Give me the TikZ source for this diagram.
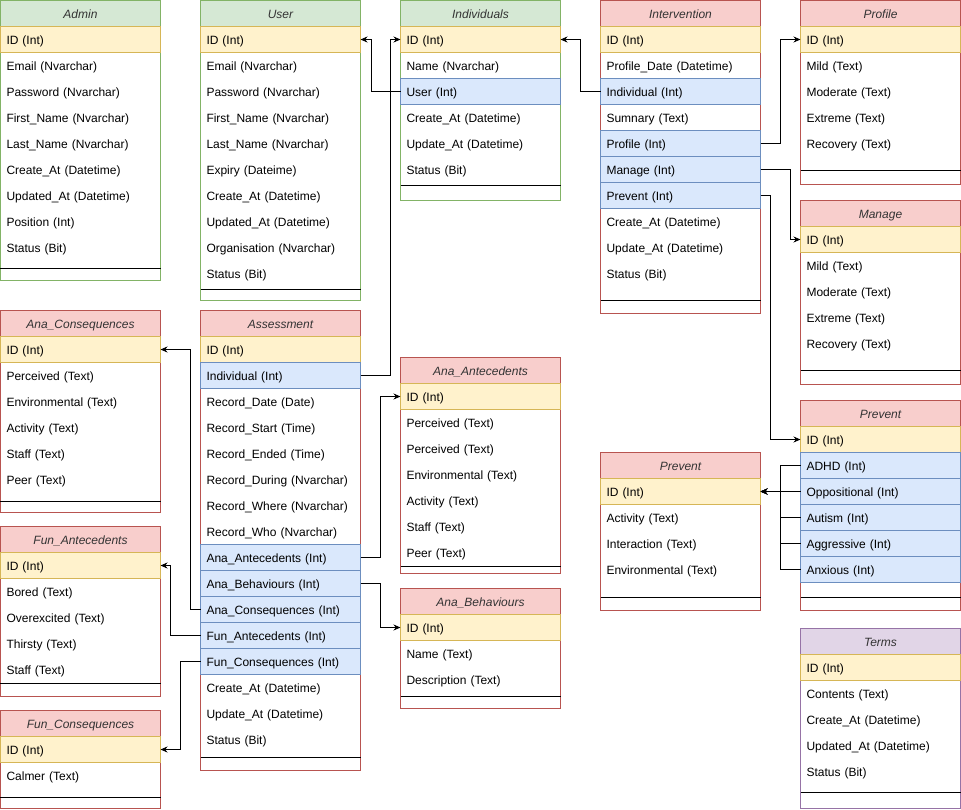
\documentclass[tikz,border=0pt]{standalone}
\usepackage{fontspec}
\setmainfont{Liberation Sans}
\usetikzlibrary{arrows.meta}

\definecolor{grF}{HTML}{D5E8D4}\definecolor{grS}{HTML}{82B366}
\definecolor{rdF}{HTML}{F8CECC}\definecolor{rdS}{HTML}{B85450}
\definecolor{puF}{HTML}{E1D5E7}\definecolor{puS}{HTML}{9673A6}
\definecolor{ylF}{HTML}{FFF2CC}\definecolor{ylS}{HTML}{D6B656}
\definecolor{blF}{HTML}{DAE8FC}\definecolor{blS}{HTML}{6C8EBF}

\tikzset{
  rowbox/.style={anchor=north west, minimum height=26pt, text width=148pt,
    text height=10.5pt, text depth=0pt,
    inner xsep=6pt, inner ysep=0pt, outer sep=0pt, align=left,
    font=\fontsize{12pt}{14pt}\selectfont, text=black},
  pkrow/.style={fill=ylF, draw=ylS},
  fkrow/.style={fill=blF, draw=blS},
  plainrow/.style={},
  hdr/.style={anchor=north west, minimum width=160pt, minimum height=26pt,
    text height=10pt, text depth=0pt,
    inner sep=0pt, outer sep=0pt,
    font=\fontsize{12pt}{14pt}\selectfont\itshape, text=black!80},
  link/.style={draw=black, line width=1pt, -{Stealth[length=7pt,width=6pt]}},
}

% #1 name, #2 left x, #3 top y, #4 colour scheme, #5 title,
% #6 rows (style/text), #7 y of separator line, #8 bottom y
\newcommand\enttable[8]{%
  \fill[white] (#2,#3) rectangle (#2+160,#8);
  \fill[#4F] (#2,#3) rectangle (#2+160,#3+26);
  \draw[#4S] (#2,#3) rectangle (#2+160,#8);
  \draw[#4S] (#2,#3+26) -- (#2+160,#3+26);
  \node[hdr] (#1) at (#2,#3) {#5};
  \foreach \rs/\rt [count=\ri] in {#6} {%
    \node[rowbox,\rs] (#1-\ri) at (#2,#3+26*\ri) {\rt};
  }
  \draw[black] (#2,#7) -- (#2+160,#7);
}

\begin{document}
\begin{tikzpicture}[x=1pt,y=-1pt,line width=1pt]
\useasboundingbox (-0.5,-0.5) rectangle (960.5,808.5);

\enttable{adm}{0}{0}{gr}{Admin}{pkrow/{ID (Int)},plainrow/{Email (Nvarchar)},
  plainrow/{Password (Nvarchar)},plainrow/{First\_Name (Nvarchar)},
  plainrow/{Last\_Name (Nvarchar)},plainrow/{Create\_At (Datetime)},
  plainrow/{Updated\_At (Datetime)},plainrow/{Position (Int)},
  plainrow/{Status (Bit)}}{268}{280}

\enttable{usr}{200}{0}{gr}{User}{pkrow/{ID (Int)},plainrow/{Email (Nvarchar)},
  plainrow/{Password (Nvarchar)},plainrow/{First\_Name (Nvarchar)},
  plainrow/{Last\_Name (Nvarchar)},plainrow/{Expiry (Dateime)},
  plainrow/{Create\_At (Datetime)},plainrow/{Updated\_At (Datetime)},
  plainrow/{Organisation (Nvarchar)},plainrow/{Status (Bit)}}{289}{300}

\enttable{ind}{400}{0}{gr}{Individuals}{pkrow/{ID (Int)},
  plainrow/{Name (Nvarchar)},fkrow/{User (Int)},
  plainrow/{Create\_At (Datetime)},plainrow/{Update\_At (Datetime)},
  plainrow/{Status (Bit)}}{185}{200}

\enttable{itv}{600}{0}{rd}{Intervention}{pkrow/{ID (Int)},
  plainrow/{Profile\_Date (Datetime)},fkrow/{Individual (Int)},
  plainrow/{Sumnary (Text)},fkrow/{Profile (Int)},fkrow/{Manage (Int)},
  fkrow/{Prevent (Int)},plainrow/{Create\_At (Datetime)},
  plainrow/{Update\_At (Datetime)},plainrow/{Status (Bit)}}{300}{313}

\enttable{prf}{800}{0}{rd}{Profile}{pkrow/{ID (Int)},plainrow/{Mild (Text)},
  plainrow/{Moderate (Text)},plainrow/{Extreme (Text)},
  plainrow/{Recovery (Text)}}{170}{184}

\enttable{mng}{800}{200}{rd}{Manage}{pkrow/{ID (Int)},plainrow/{Mild (Text)},
  plainrow/{Moderate (Text)},plainrow/{Extreme (Text)},
  plainrow/{Recovery (Text)}}{370}{384}

\enttable{prv}{800}{400}{rd}{Prevent}{pkrow/{ID (Int)},fkrow/{ADHD (Int)},
  fkrow/{Oppositional (Int)},fkrow/{Autism (Int)},
  fkrow/{Aggressive (Int)},fkrow/{Anxious (Int)}}{597}{610}

\enttable{pvm}{600}{452}{rd}{Prevent}{pkrow/{ID (Int)},
  plainrow/{Activity (Text)},plainrow/{Interaction (Text)},
  plainrow/{Environmental (Text)}}{597}{610}

\enttable{trm}{800}{628}{pu}{Terms}{pkrow/{ID (Int)},
  plainrow/{Contents (Text)},plainrow/{Create\_At (Datetime)},
  plainrow/{Updated\_At (Datetime)},plainrow/{Status (Bit)}}{792}{808}

\enttable{acq}{0}{310}{rd}{Ana\_Consequences}{pkrow/{ID (Int)},
  plainrow/{Perceived (Text)},plainrow/{Environmental (Text)},
  plainrow/{Activity (Text)},plainrow/{Staff (Text)},
  plainrow/{Peer (Text)}}{501}{512}

\enttable{fan}{0}{526}{rd}{Fun\_Antecedents}{pkrow/{ID (Int)},
  plainrow/{Bored (Text)},plainrow/{Overexcited (Text)},
  plainrow/{Thirsty (Text)},plainrow/{Staff (Text)}}{683}{696}

\enttable{fcq}{0}{710}{rd}{Fun\_Consequences}{pkrow/{ID (Int)},
  plainrow/{Calmer (Text)}}{797}{808}

\enttable{asm}{200}{310}{rd}{Assessment}{pkrow/{ID (Int)},
  fkrow/{Individual (Int)},plainrow/{Record\_Date (Date)},
  plainrow/{Record\_Start (Time)},plainrow/{Record\_Ended (Time)},
  plainrow/{Record\_During (Nvarchar)},plainrow/{Record\_Where (Nvarchar)},
  plainrow/{Record\_Who (Nvarchar)},fkrow/{Ana\_Antecedents (Int)},
  fkrow/{Ana\_Behaviours (Int)},fkrow/{Ana\_Consequences (Int)},
  fkrow/{Fun\_Antecedents (Int)},fkrow/{Fun\_Consequences (Int)},
  plainrow/{Create\_At (Datetime)},plainrow/{Update\_At (Datetime)},
  plainrow/{Status (Bit)}}{757}{770}

\enttable{aan}{400}{357}{rd}{Ana\_Antecedents}{pkrow/{ID (Int)},
  plainrow/{Perceived (Text)},plainrow/{Perceived (Text)},
  plainrow/{Environmental (Text)},plainrow/{Activity (Text)},
  plainrow/{Staff (Text)},plainrow/{Peer (Text)}}{566}{573}

\enttable{abh}{400}{588}{rd}{Ana\_Behaviours}{pkrow/{ID (Int)},
  plainrow/{Name (Text)},plainrow/{Description (Text)}}{696}{708}

% foreign-key connectors
\draw[link] (ind-3.west) -- ++(-29,0) |- (usr-1.east);
\draw[link] (asm-2.east) -- ++(30,0) |- (ind-1.west);
\draw[link] (itv-3.west) -- ++(-20,0) |- (ind-1.east);
\draw[link] (itv-5.east) -- ++(20,0) |- (prf-1.west);
\draw[link] (itv-6.east) -- ++(30,0) |- (mng-1.west);
\draw[link] (itv-7.east) -- ++(10,0) |- (prv-1.west);
\foreach \k in {2,...,6} {\draw[link] (prv-\k.west) -- ++(-20,0) |- (pvm-1.east);}
\draw[link] (asm-9.east) -- ++(20,0) |- (aan-1.west);
\draw[link] (asm-10.east) -- ++(20,0) |- (abh-1.west);
\draw[link] (asm-11.west) -- ++(-10,0) |- (acq-1.east);
\draw[link] (asm-12.west) -- ++(-30,0) |- (fan-1.east);
\draw[link] (asm-13.west) -- ++(-20,0) |- (fcq-1.east);
\end{tikzpicture}
\end{document}
